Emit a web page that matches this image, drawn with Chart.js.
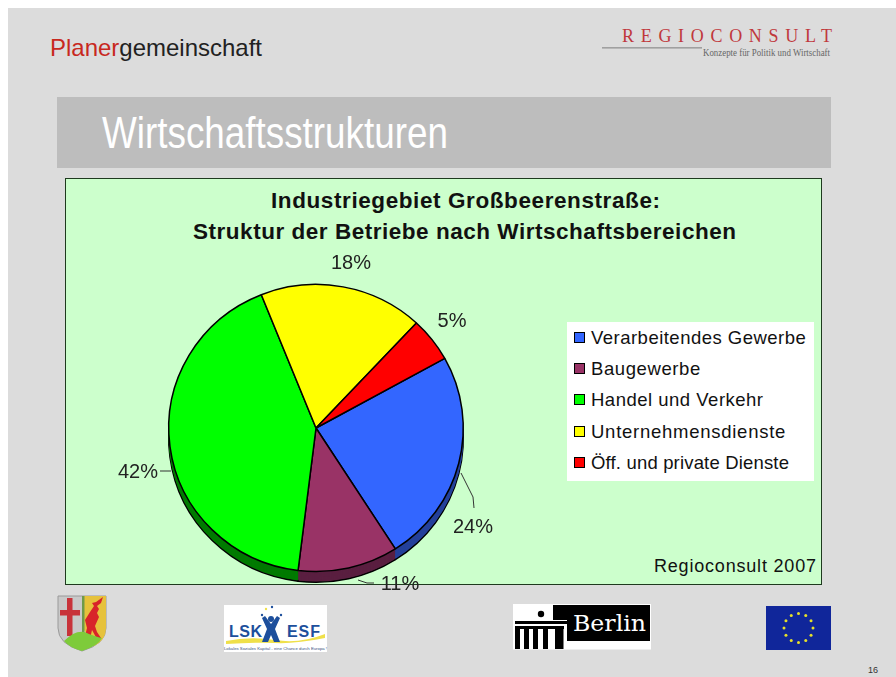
<!DOCTYPE html>
<html lang="de">
<head>
<meta charset="utf-8">
<title>Wirtschaftsstrukturen</title>
<script src="https://cdn.jsdelivr.net/npm/chart.js@4"></script>
<style>
  html, body { margin: 0; padding: 0; background: #fff; }
  body { position: relative; width: 896px; height: 677px; overflow: hidden; font-family: "Liberation Sans", Arial, sans-serif; }
  .slide { position: absolute; left: 8px; top: 8px; right: 0; bottom: 0; background: #dcdcdc; }
  .band { position: absolute; left: 57px; top: 97px; width: 774px; height: 71px; background: #bdbdbd; }
  .panel { position: absolute; left: 65px; top: 178px; width: 755px; height: 405px; background: #ccffcc; border: 1px solid #1f3a1f; }
  #deco { position: absolute; left: 0; top: 0; }
  #pie { position: absolute; left: 0; top: 0; }
  .legend { position: absolute; left: 567px; top: 322px; width: 247px; height: 159px; background: #fff; }
  .legend div { position: absolute; left: 7px; height: 20px; line-height: 20px; font-size: 18.5px; color: #111; white-space: nowrap; }
  .legend i { position: absolute; left: 0; top: 4px; width: 9px; height: 9px; border: 1.5px solid #000; }
  .legend span { position: absolute; left: 17px; }
</style>
</head>
<body>
<div class="slide"></div>
<div class="band"></div>
<div class="panel"></div>
<svg id="deco" width="896" height="677" xmlns="http://www.w3.org/2000/svg"></svg>
<div class="legend" id="legend"></div>
<canvas id="pie" width="896" height="677"></canvas>

<script>
const categories = ["Verarbeitendes Gewerbe", "Baugewerbe", "Handel und Verkehr", "Unternehmensdienste", "Öff. und private Dienste"];
const shares = [24, 11, 42, 18, 5];
const sliceColors = ["#3366ff", "#993366", "#00ff00", "#ffff00", "#ff0000"];
const sideColors = ["#24409a", "#5a1f40", "#007a00", "#8a8a00", "#8a0000"];

const titleLines = ["Industriegebiet Großbeerenstraße:", "Struktur der Betriebe nach Wirtschaftsbereichen"];
const source = "Regioconsult 2007";

// label spots and leader lines, offset from the pie centre
const labelSpots = [[157, 99], [84, 156], [-178, 44], [35, -165], [136, -107]];
const leaders = [
  [[145, 45], [157, 69], [158, 80]],
  [[42, 152], [51, 155], [58, 155]],
  [[-156, 43], [-145, 43]],
  null,
  null
];

const $ = id => document.getElementById(id);
const depth = 11;
const squash = 0.975;

function buildLegend() {
  const rows = [338, 369, 400, 432, 463];
  const gaps = [0.48, 0.6, 0.5, 0.74, 0.17];
  $("legend").innerHTML = categories.map((name, i) =>
    `<div style="top:${rows[i] - 322 - 10}px"><i style="background:${sliceColors[i]}"></i>` +
    `<span style="letter-spacing:${gaps[i]}px">${name}</span></div>`
  ).join("");
}

function buildDeco() {
  let stars = "";
  for (let i = 0; i < 12; i++) {
    const a = i * Math.PI / 6;
    stars += `<circle cx="${798.5 + 14.5 * Math.sin(a)}" cy="${628 - 14.5 * Math.cos(a)}" r="1.5" fill="#e6e02a"/>`;
  }
  const sans = 'font-family="Liberation Sans"';
  const serif = 'font-family="Liberation Serif"';
  $("deco").innerHTML = `
    <text x="50" y="56" ${sans} font-size="24" textLength="212" lengthAdjust="spacingAndGlyphs"><tspan fill="#c8281e">Planer</tspan><tspan fill="#222">gemeinschaft</tspan></text>
    <text x="622" y="42" ${serif} font-size="18" fill="#c0383c" textLength="210">REGIOCONSULT</text>
    <rect x="602" y="47" width="100" height="1.6" fill="#a0a0a0"/>
    <text x="703" y="56" ${serif} font-size="9.5" fill="#666" textLength="127" lengthAdjust="spacingAndGlyphs">Konzepte für Politik und Wirtschaft</text>
    <text x="102" y="148" ${sans} font-size="44" fill="#fff" textLength="346" lengthAdjust="spacingAndGlyphs">Wirtschaftsstrukturen</text>
    <text x="271" y="208" ${sans} font-size="22.5" font-weight="bold" fill="#111" textLength="389">${titleLines[0]}</text>
    <text x="193" y="239" ${sans} font-size="22.5" font-weight="bold" fill="#111" textLength="543">${titleLines[1]}</text>
    <text x="654" y="572" ${sans} font-size="18" fill="#111" textLength="162">${source}</text>

    <path d="M58 596 H106 V628 Q106 644 82 651 Q58 644 58 628 Z" fill="#c9c9c9" stroke="#9a9a9a"/>
    <path d="M84 596 H106 V628 Q106 640 94 646 L84 630 Z" fill="#e6c23c"/>
    <rect x="82" y="596" width="2.5" height="40" fill="#6f9a4a"/>
    <rect x="67" y="598" width="5.5" height="38" fill="#c8333a"/>
    <rect x="60" y="610" width="20" height="5.5" fill="#c8333a"/>
    <path d="M103 597 L101 603 L97 606 L99 609 L97 613 L99 617 L95 626 L97 632 L101 638 L97 639 L92 630 L90 639 L85 636 L87 628 L85 620 L90 612 L94 606 L92 603 L96 602 Z" fill="#d8242a"/>
    <path d="M64 641 Q78 627 89 634 Q100 638 102 638 Q98 646 82 651 Q70 648 64 641 Z" fill="#7ecb3a"/>

    <rect x="224" y="605" width="103" height="47" fill="#fff"/>
    <path d="M226 641 Q250 636 275 640 T325 634 V638 Q295 644 275 643 T226 644 Z" fill="#efe04a"/>
    <text x="229" y="637" ${sans} font-size="16" font-weight="bold" fill="#1d4f9c" textLength="33">LSK</text>
    <text x="287" y="637" ${sans} font-size="16" font-weight="bold" fill="#1d4f9c" textLength="33">ESF</text>
    <path d="M265 616 L271 624 L277 616 L280 618 L275 629 L280 642 L274 642 L271 635 L268 642 L262 642 L267 629 L262 618 Z" fill="#1d4f9c"/>
    <circle cx="271" cy="619" r="3" fill="#1d4f9c"/>
    <circle cx="272" cy="607" r="1.2" fill="#1d4f9c"/><circle cx="281" cy="615" r="1.2" fill="#1d4f9c"/>
    <circle cx="262" cy="615" r="1.2" fill="#1d4f9c"/><circle cx="266" cy="609" r="1.2" fill="#efe04a"/>
    <text x="224" y="650" ${sans} font-size="4" fill="#35507f" textLength="103" lengthAdjust="spacingAndGlyphs">Lokales Soziales Kapital - eine Chance durch Europa !</text>

    <rect x="513" y="604" width="138" height="45.5" fill="#fff"/>
    <rect x="553" y="605" width="97" height="36" fill="#000"/>
    <rect x="553" y="620" width="14" height="21" fill="#fff"/>
    <rect x="515" y="621" width="52" height="3" fill="#000"/>
    <rect x="515" y="626" width="49" height="3" fill="#000"/>
    <circle cx="541" cy="614" r="3.2" fill="#000"/>
    <rect x="515" y="629" width="5" height="20" fill="#000"/><rect x="524" y="629" width="5" height="20" fill="#000"/>
    <rect x="533" y="629" width="5" height="20" fill="#000"/><rect x="543" y="629" width="5" height="20" fill="#000"/>
    <rect x="555" y="629" width="8.5" height="20" fill="#000"/>
    <text x="573" y="631" font-family="DejaVu Serif" font-size="23" fill="#fff" textLength="73" lengthAdjust="spacingAndGlyphs">Berlin</text>

    <rect x="766" y="606" width="65" height="44" fill="#10269a"/>
    ${stars}

    <text x="868" y="673" ${sans} font-size="9" fill="#333">16</text>`;
}

// darker copies of the arcs, pushed down, give the tilted look of the original
const tiltPlugin = {
  id: "tilt",
  beforeDatasetsDraw(chart) {
    const ctx = chart.ctx;
    const arcs = chart.getDatasetMeta(0).data;
    const cy = arcs[0].y;
    ctx.save();
    ctx.translate(0, cy);
    ctx.scale(1, squash);
    ctx.translate(0, -cy);
    for (let d = depth; d >= 1; d--) {
      ctx.save();
      ctx.translate(0, d);
      arcs.forEach((arc, i) => {
        const keep = arc.options;
        arc.options = Object.assign({}, keep, {
          backgroundColor: sideColors[i],
          borderColor: d === depth ? "#000" : sideColors[i],
          borderWidth: d === depth ? 1.5 : 0
        });
        arc.draw(ctx);
        arc.options = keep;
      });
      ctx.restore();
    }
  },
  afterDatasetsDraw(chart) {
    chart.ctx.restore();
  }
};

const labelPlugin = {
  id: "sliceLabels",
  afterDraw(chart) {
    const ctx = chart.ctx;
    const { x, y } = chart.getDatasetMeta(0).data[0];
    ctx.save();
    ctx.font = '20px "Liberation Sans"';
    ctx.textAlign = "center";
    ctx.textBaseline = "middle";
    shares.forEach((v, i) => {
      if (leaders[i]) {
        ctx.beginPath();
        leaders[i].forEach(([dx, dy], k) => {
          if (k) ctx.lineTo(x + dx, y + dy);
          else ctx.moveTo(x + dx, y + dy);
        });
        ctx.strokeStyle = "#333";
        ctx.lineWidth = 1;
        ctx.stroke();
      }
      ctx.fillStyle = "#222";
      ctx.fillText(v + "%", x + labelSpots[i][0], y + labelSpots[i][1]);
    });
    ctx.restore();
  }
};

function startApp() {
  buildLegend();
  buildDeco();

  new Chart($("pie"), {
    type: "pie",
    data: {
      labels: categories,
      datasets: [{
        data: shares,
        backgroundColor: sliceColors,
        borderColor: "#000",
        borderWidth: 1.5
      }]
    },
    options: {
      responsive: false,
      animation: false,
      rotation: 61,
      layout: { padding: { left: 168, right: 432, top: 280, bottom: 101 } },
      plugins: {
        legend: { display: false },
        tooltip: { enabled: false }
      }
    },
    plugins: [tiltPlugin, labelPlugin]
  });
}

startApp();
</script>
</body>
</html>
